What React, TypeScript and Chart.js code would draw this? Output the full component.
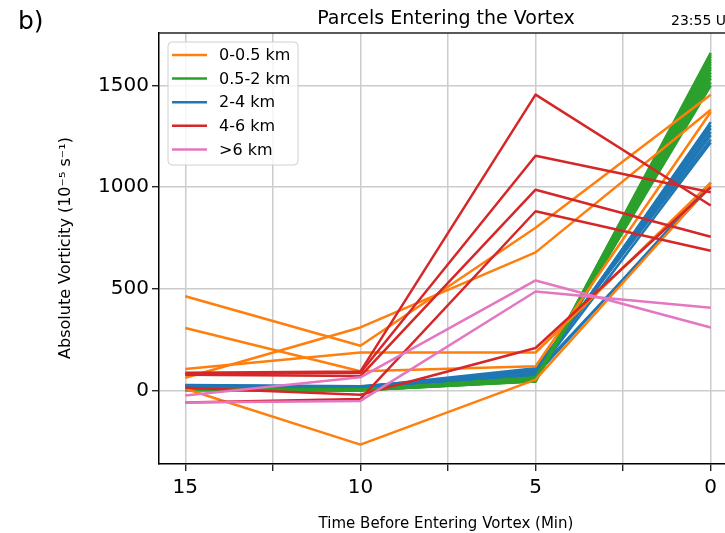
import React, { useEffect, useRef } from 'react';
import { Chart, registerables } from 'chart.js';

Chart.register(...registerables);

// Minutes before entering the vortex (x positions of every parcel trace)
const minutes = [15, 10, 5, 0];
const xTickValues = [15, 12.5, 10, 7.5, 5, 2.5, 0];
const yTickValues = [0, 500, 1000, 1500];

// Absolute vorticity (1e-5 s^-1) per parcel, values at 15, 10, 5, 0 min
const orangeParcels = [
  [464, 221, 801, 1455],
  [308, 96, 120, 1370],
  [107, 188, 188, 1022],
  [64, 311, 680, 1381],
  [10, -265, 55, 1010],
];
const blueParcels = [
  [22, 18, 85, 1320],
  [25, 20, 95, 1305],
  [20, 15, 100, 1290],
  [28, 22, 90, 1272],
  [18, 14, 105, 1255],
  [24, 19, 110, 1235],
  [26, 21, 80, 1220],
  [21, 16, 75, 1022],
  [23, 17, 88, 1005],
];
const greenParcels = [
  [5, 3, 50, 1660],
  [7, 4, 53, 1650],
  [4, 2, 47, 1640],
  [8, 5, 56, 1628],
  [3, 2, 45, 1617],
  [6, 4, 58, 1605],
  [9, 6, 60, 1592],
  [5, 3, 48, 1580],
  [7, 5, 62, 1565],
  [6, 4, 52, 1550],
  [4, 3, 64, 1535],
  [8, 6, 55, 1515],
  [6, 4, 66, 1500],
];
const redParcels = [
  [88, 95, 1455, 910],
  [82, 88, 1155, 975],
  [78, 72, 988, 757],
  [-58, -40, 882, 688],
  [15, -20, 210, 1000],
];
const pinkParcels = [
  [-23, 66, 542, 311],
  [-58, -50, 488, 408],
];

const legendLabels = ['0-0.5 km', '0.5-2 km', '2-4 km', '4-6 km', '>6 km'];
const seriesColors = ['#ff7f0e', '#2ca02c', '#1f77b4', '#d62728', '#e377c2'];
// drawing order (bottom to top): blue, green, orange, red, pink
const seriesGroups = [
  { rows: blueParcels, li: 2 },
  { rows: greenParcels, li: 1 },
  { rows: orangeParcels, li: 0 },
  { rows: redParcels, li: 3 },
  { rows: pinkParcels, li: 4 },
];

const FONT = "'DejaVu Sans', sans-serif";

const overlayPlugin = {
  id: 'overlay',
  afterDraw(chart: any) {
    const ctx = chart.ctx as CanvasRenderingContext2D;
    const { left, right, top } = chart.chartArea;
    ctx.save();
    // top frame line
    ctx.strokeStyle = '#222';
    ctx.lineWidth = 1.5;
    ctx.beginPath();
    ctx.moveTo(left, top);
    ctx.lineTo(right, top);
    ctx.stroke();

    ctx.fillStyle = '#000';
    ctx.textBaseline = 'alphabetic';
    // panel letter
    ctx.font = `25px ${FONT}`;
    ctx.textAlign = 'left';
    ctx.fillText('b)', 18, 29);
    // title
    ctx.font = `19px ${FONT}`;
    ctx.textAlign = 'center';
    ctx.fillText('Parcels Entering the Vortex', 446, 24);
    // time stamp
    ctx.font = `14px ${FONT}`;
    ctx.textAlign = 'left';
    ctx.fillText('23:55 UT', 671, 25);
    // x label
    ctx.font = `15px ${FONT}`;
    ctx.textAlign = 'center';
    ctx.fillText('Time Before Entering Vortex (Min)', 446, 528);
    // y label
    ctx.save();
    ctx.translate(70, 248);
    ctx.rotate(-Math.PI / 2);
    ctx.font = `16px ${FONT}`;
    ctx.textAlign = 'center';
    ctx.fillText('Absolute Vorticity (10\u207B\u2075 s\u207B\u00B9)', 0, 0);
    ctx.restore();

    // legend
    const bx = 168, by = 42, bw = 130, bh = 123, r = 4;
    ctx.beginPath();
    ctx.moveTo(bx + r, by);
    ctx.lineTo(bx + bw - r, by);
    ctx.arcTo(bx + bw, by, bx + bw, by + r, r);
    ctx.lineTo(bx + bw, by + bh - r);
    ctx.arcTo(bx + bw, by + bh, bx + bw - r, by + bh, r);
    ctx.lineTo(bx + r, by + bh);
    ctx.arcTo(bx, by + bh, bx, by + bh - r, r);
    ctx.lineTo(bx, by + r);
    ctx.arcTo(bx, by, bx + r, by, r);
    ctx.closePath();
    ctx.fillStyle = 'rgba(255,255,255,0.8)';
    ctx.fill();
    ctx.strokeStyle = '#d0d0d0';
    ctx.lineWidth = 1;
    ctx.stroke();
    ctx.font = `16px ${FONT}`;
    ctx.textAlign = 'left';
    ctx.textBaseline = 'middle';
    legendLabels.forEach((lab, i) => {
      const y = 55 + i * 23.6;
      ctx.strokeStyle = seriesColors[i];
      ctx.lineWidth = 2.5;
      ctx.beginPath();
      ctx.moveTo(172, y);
      ctx.lineTo(207, y);
      ctx.stroke();
      ctx.fillStyle = '#000';
      ctx.fillText(lab, 219, y + 1);
    });
    ctx.restore();
  },
};

export default function App() {
  const ref = useRef<HTMLCanvasElement>(null);
  useEffect(() => {
    if (!ref.current) return;
    const datasets: any[] = [];
    seriesGroups.forEach((g) => {
      g.rows.forEach((vals) => {
        datasets.push({
          label: legendLabels[g.li],
          data: minutes.map((m, i) => ({ x: m, y: vals[i] })),
          borderColor: seriesColors[g.li],
          backgroundColor: seriesColors[g.li],
          borderWidth: 2.5,
          pointRadius: 0,
          tension: 0,
          fill: false,
          borderJoinStyle: 'round',
        });
      });
    });
    datasets.forEach((d, i) => (d.order = datasets.length - i));

    const gridCfg = {
      color: '#cccccc',
      lineWidth: 1.5,
      tickLength: 7,
      tickColor: '#000',
      tickWidth: 1.2,
    };

    const chart = new Chart(ref.current, {
      type: 'line',
      data: { datasets },
      options: {
        animation: false,
        responsive: false,
        devicePixelRatio: 1,
        layout: { padding: { top: 33, right: 23, bottom: 0, left: 0 } },
        plugins: { legend: { display: false }, tooltip: { enabled: false }, title: { display: false } },
        scales: {
          x: {
            type: 'linear',
            reverse: true,
            min: -0.75,
            max: 15.75,
            afterBuildTicks: (s: any) => {
              s.ticks = xTickValues.map((v) => ({ value: v }));
            },
            afterFit: (s: any) => {
              s.height = 69;
            },
            ticks: {
              autoSkip: false,
              maxRotation: 0,
              padding: 5,
              color: '#000',
              font: { family: FONT, size: 20 },
              callback: (v: any) => (Number(v) % 5 === 0 ? String(v) : ''),
            },
            grid: gridCfg,
            border: { display: true, color: '#000', width: 1.5 },
          },
          y: {
            type: 'linear',
            min: -360,
            max: 1758,
            afterBuildTicks: (s: any) => {
              s.ticks = yTickValues.map((v) => ({ value: v }));
            },
            afterFit: (s: any) => {
              s.width = 159;
            },
            ticks: {
              padding: 3,
              color: '#000',
              font: { family: FONT, size: 20 },
              callback: (v: any) => String(v),
            },
            grid: gridCfg,
            border: { display: true, color: '#000', width: 1.5 },
          },
        },
      } as any,
      plugins: [overlayPlugin],
    });
    return () => chart.destroy();
  }, []);

  return (
    <div
      style={{
        position: 'fixed',
        left: 0,
        top: 0,
        width: 725,
        height: 533,
        overflow: 'hidden',
        background: '#fff',
      }}
    >
      <canvas ref={ref} width={760} height={533} style={{ display: 'block', width: 760, height: 533 }} />
    </div>
  );
}
